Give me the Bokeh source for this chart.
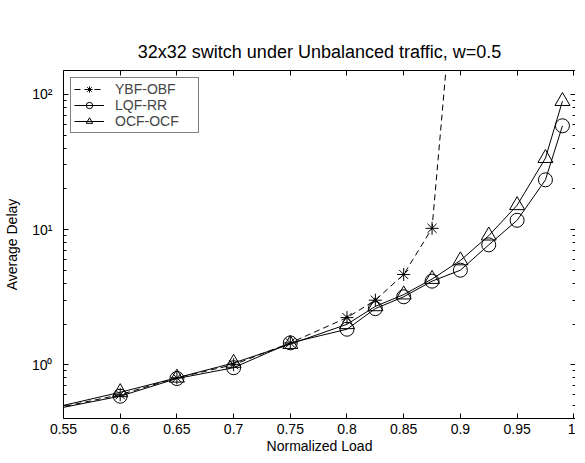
from bokeh.plotting import figure
from bokeh.models import LinearAxis, LogAxis, FixedTicker, Range1d, Legend, LegendItem
from bokeh.embed import file_html
from bokeh.resources import INLINE

# ---- data ----
load_ybf = [0.5, 0.6, 0.65, 0.7, 0.75, 0.8, 0.825, 0.85, 0.875, 0.9]
delay_ybf = [0.40, 0.60, 0.80, 1.00, 1.45, 2.23, 3.0, 4.65, 10.2, 2500.0]

load_other = [0.5, 0.6, 0.65, 0.7, 0.75, 0.8, 0.825, 0.85, 0.875, 0.9, 0.925, 0.95, 0.975, 0.99]
delay_lqf = [0.40, 0.585, 0.79, 0.95, 1.45, 1.83, 2.6, 3.18, 4.15, 5.0, 7.7, 11.7, 23.3, 58.5]
delay_ocf = [0.40, 0.625, 0.80, 1.03, 1.42, 1.99, 2.7, 3.3, 4.3, 5.9, 9.0, 15.1, 33.7, 89.0]

series_names = ["YBF-OBF", "LQF-RR", "OCF-OCF"]

x_ticks = [0.55, 0.6, 0.65, 0.7, 0.75, 0.8, 0.85, 0.9, 0.95, 1.0]
x_tick_labels = ["0.55", "0.6", "0.65", "0.7", "0.75", "0.8", "0.85", "0.9", "0.95", "1"]
y_ticks = [1, 10, 100]
y_tick_labels = ["10\u2070", "10\u00b9", "10\u00b2"]
y_minor = [0.4, 0.5, 0.6, 0.7, 0.8, 0.9, 2, 3, 4, 5, 6, 7, 8, 9, 20, 30, 40, 50, 60, 70, 80, 90]

title_text = "32x32 switch under Unbalanced traffic, w=0.5"
x_label = "Normalized Load"
y_label = "Average Delay"

FONT = "Liberation Sans"

p = figure(frame_width=512, frame_height=348, output_backend="svg", toolbar_location=None,
           x_range=Range1d(0.55, 1.0015), y_range=Range1d(0.4, 150),
           y_axis_type="log", min_border_left=55, min_border_right=0,
           min_border_top=70, min_border_bottom=0, title=title_text)
p.grid.visible = False
p.outline_line_color = None
p.background_fill_color = "white"
p.border_fill_color = "white"

p.title.align = "center"
p.title.offset = 6
p.title.text_font = FONT
p.title.text_font_size = "18px"
p.title.text_font_style = "normal"
p.title.text_color = "black"
p.title.standoff = 17

xt = FixedTicker(ticks=x_ticks, minor_ticks=[])
yt = FixedTicker(ticks=y_ticks, minor_ticks=y_minor)


def style_axis(ax, labels=True):
    ax.axis_line_color = "black"
    ax.axis_line_width = 1
    ax.major_tick_in = 5
    ax.major_tick_out = 0
    ax.minor_tick_in = 3
    ax.minor_tick_out = 0
    ax.major_tick_line_color = "black"
    ax.minor_tick_line_color = "black"
    ax.major_label_text_font = FONT
    ax.major_label_text_color = "black"
    ax.axis_label_text_font = FONT
    ax.axis_label_text_font_style = "normal"
    ax.axis_label_text_color = "black"
    ax.axis_label_text_font_size = "14px"
    if labels:
        ax.major_label_text_font_size = "14px"
    else:
        ax.major_label_text_font_size = "0px"
        ax.major_label_standoff = 0
        ax.axis_label_standoff = 0


xa = p.xaxis[0]
xa.ticker = xt
xa.major_label_overrides = dict(zip(x_ticks, x_tick_labels))
xa.axis_label = x_label
style_axis(xa)
xa.major_label_standoff = 5
xa.axis_label_standoff = 1

ya = p.yaxis[0]
ya.ticker = yt
ya.major_label_overrides = dict(zip(y_ticks, y_tick_labels))
ya.axis_label = y_label
style_axis(ya)
ya.major_label_standoff = 11
ya.axis_label_standoff = 9

top = LinearAxis(ticker=xt, major_label_overrides={t: "" for t in x_ticks})
style_axis(top, labels=False)
p.add_layout(top, "above")

right = LogAxis(ticker=yt, major_label_overrides={t: "" for t in y_ticks})
style_axis(right, labels=False)
p.add_layout(right, "right")

l1 = p.line(load_ybf, delay_ybf, line_color="black", line_width=1, line_dash="6 4")
s1 = p.scatter(load_ybf, delay_ybf, marker="asterisk", size=13, line_color="black",
               line_width=1, fill_color=None)
l2 = p.line(load_other, delay_lqf, line_color="black", line_width=1)
s2 = p.scatter(load_other, delay_lqf, marker="circle", size=14, line_color="black",
               line_width=1, fill_color=None)
l3 = p.line(load_other, delay_ocf, line_color="black", line_width=1)
s3 = p.scatter(load_other, delay_ocf, marker="triangle", size=15, line_color="black",
               line_width=1, fill_color=None)

legend = Legend(items=[LegendItem(label=series_names[0], renderers=[l1, s1]),
                       LegendItem(label=series_names[1], renderers=[l2, s2]),
                       LegendItem(label=series_names[2], renderers=[l3, s3])],
                location="top_left", margin=7, padding=3, spacing=0,
                glyph_width=30, glyph_height=16, label_standoff=11, label_width=80,
                label_text_font=FONT, label_text_font_size="14px", label_height=16,
                border_line_color="black", border_line_width=1,
                background_fill_color="white", background_fill_alpha=1)
p.add_layout(legend)

open("out.html", "w").write(file_html(p, INLINE))
